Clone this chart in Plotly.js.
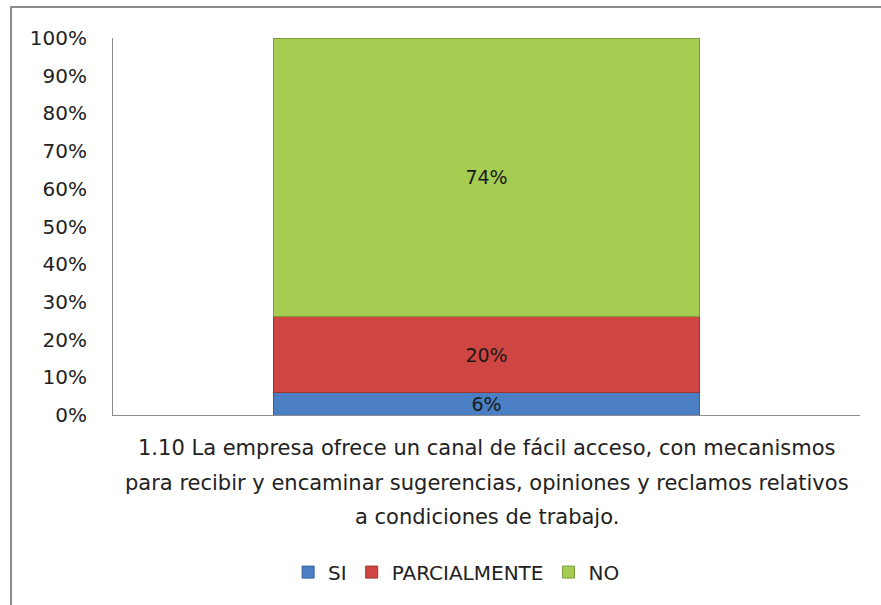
<!DOCTYPE html>
<html>
<head>
<meta charset="utf-8">
<script src="https://cdn.plot.ly/plotly-3.0.1.min.js"></script>
<style>
html,body{margin:0;padding:0;background:#fff;}
#chart{width:881px;height:605px;}
</style>
</head>
<body>
<div id="chart"></div>
<script>
const categories = ["1.10"];
const seriesNames = ["SI", "PARCIALMENTE", "NO"];
const siValues = [6];
const parcialValues = [20];
const noValues = [74];
const tickValues = [0, 10, 20, 30, 40, 50, 60, 70, 80, 90, 100];
const tickLabels = ["0%", "10%", "20%", "30%", "40%", "50%", "60%", "70%", "80%", "90%", "100%"];
const categoryTitleLines = [
  "1.10 La empresa ofrece un canal de fácil acceso, con mecanismos",
  "para recibir y encaminar sugerencias, opiniones y reclamos relativos",
  "a condiciones de trabajo."
];

const colors = ["#4a7fc4", "#cf4542", "#a6cd52"];
const lineColors = ["#35609a", "#9e3330", "#7d9c3c"];
const values = [siValues, parcialValues, noValues];
const font = "DejaVu Sans, sans-serif";

const traces = seriesNames.map((name, i) => ({
  type: "bar",
  name: name,
  x: categories,
  y: values[i],
  text: values[i].map(v => v + "%"),
  textposition: "inside",
  insidetextanchor: "middle",
  constraintext: "none",
  textfont: {family: font, size: 19, color: "#1a1a1a"},
  marker: {color: colors[i], line: {color: lineColors[i], width: 1}},
  hoverinfo: "skip"
}));

const titleAnnotations = categoryTitleLines.map((t, i) => ({
  text: t,
  xref: "paper", yref: "paper",
  x: 0.5, y: (415 - (448 + 34.5 * i)) / 377,
  xanchor: "center", yanchor: "middle",
  showarrow: false,
  font: {family: font, size: 21, color: "#222"}
}));

const layout = {
  width: 881,
  height: 605,
  margin: {l: 113, r: 21, t: 38, b: 190},
  paper_bgcolor: "#fff",
  plot_bgcolor: "#fff",
  barmode: "stack",
  bargap: 0.431,
  showlegend: true,
  legend: {
    orientation: "h",
    traceorder: "normal",
    x: 0.46, xanchor: "center",
    y: -0.365, yanchor: "top",
    font: {family: font, size: 20, color: "#222"},
    itemwidth: 30
  },
  xaxis: {
    showticklabels: false,
    showline: true,
    linecolor: "#8c8c8c",
    linewidth: 1,
    ticks: "",
    showgrid: false,
    zeroline: false,
    fixedrange: true
  },
  yaxis: {
    range: [0, 100],
    tickvals: tickValues,
    ticktext: tickLabels,
    tickfont: {family: font, size: 20, color: "#222"},
    showline: true,
    linecolor: "#8c8c8c",
    linewidth: 1,
    ticks: "",
    ticklabelstandoff: 21,
    showgrid: false,
    zeroline: false,
    fixedrange: true
  },
  annotations: titleAnnotations,
  shapes: [{
    type: "rect",
    xref: "paper", yref: "paper",
    x0: -0.1365, x1: 1.05,
    y0: -0.53, y1: 1.0822,
    line: {color: "#8a8a8a", width: 2},
    fillcolor: "rgba(0,0,0,0)",
    layer: "below"
  }]
};

Plotly.newPlot("chart", traces, layout, {displayModeBar: false, staticPlot: true});
</script>
</body>
</html>
